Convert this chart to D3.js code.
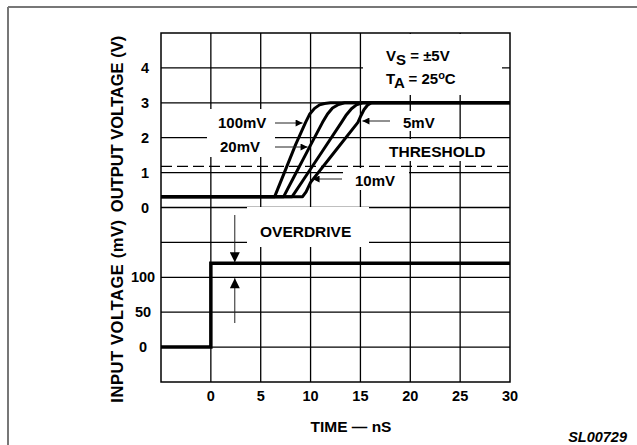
<!DOCTYPE html>
<html>
<head>
<meta charset="utf-8">
<script src="https://cdn.jsdelivr.net/npm/d3@7"></script>
<style>
  body { margin: 0; background: #fff; }
  text { font-family: "Liberation Sans", Arial, sans-serif; font-weight: bold; fill: #000; }
</style>
</head>
<body>
<script>
// time axis (ns) and the two stacked voltage axes
var timeTicks = [0, 5, 10, 15, 20, 25, 30];
var outTicks = [0, 1, 2, 3, 4];
var inTicks = [0, 50, 100];
var threshold = 1.18;

// output response for each overdrive, [ns, V]
var out100 = [[-5, 0.31], [6.4, 0.31], [7.3, 0.95], [8.5, 1.8], [9.5, 2.44], [9.9, 2.67], [10.4, 2.84], [10.9, 2.94], [11.4, 2.98], [12, 3], [30, 3]];
var out20 = [[-5, 0.31], [7.3, 0.31], [8.3, 0.86], [9.8, 1.68], [11.2, 2.44], [11.7, 2.68], [12.2, 2.85], [12.8, 2.95], [13.4, 3], [30, 3]];
var out10 = [[-5, 0.31], [8.15, 0.31], [9.2, 0.76], [11.2, 1.62], [13.1, 2.44], [13.6, 2.66], [14.1, 2.83], [14.6, 2.94], [15.2, 3], [30, 3]];
var out5 = [[-5, 0.31], [9.2, 0.31], [9.55, 0.45], [10.0, 0.72], [12.4, 1.59], [14.75, 2.44], [15.05, 2.63], [15.35, 2.8], [15.7, 2.93], [16.1, 3], [30, 3]];

// input step, [ns, mV]
var input = [[-5, 0], [0, 0], [0, 120], [30, 120]];

var svg = d3.select("body").append("svg")
    .attr("width", 637)
    .attr("height", 445);

// page frame (only top and left edges show)
svg.append("line").attr("x1", 8).attr("y1", 7).attr("x2", 637).attr("y2", 7)
    .attr("stroke", "#777").attr("stroke-width", 2);
svg.append("line").attr("x1", 8).attr("y1", 7).attr("x2", 8).attr("y2", 445)
    .attr("stroke", "#777").attr("stroke-width", 2);

var plotL = 161, plotR = 510, plotT = 33, plotB = 382;
var row = (plotB - plotT) / 10;

var x = d3.scaleLinear().domain([-5, 30]).range([plotL, plotR]);
var yOut = d3.scaleLinear().domain([0, 5]).range([plotT + 5 * row, plotT]);
var yIn = d3.scaleLinear().domain([-50, 200]).range([plotB, plotT + 5 * row]);

var grid = svg.append("g");
var boxes = svg.append("g");
var marks = svg.append("g");
var notes = svg.append("g");

// gridlines
timeTicks.slice(0, -1).forEach(function (t) {
    grid.append("line").attr("x1", x(t)).attr("x2", x(t)).attr("y1", plotT).attr("y2", plotB)
        .attr("stroke", "#000").attr("stroke-width", 1.3);
});
[0, 1, 2, 3, 4].forEach(function (v) {
    grid.append("line").attr("x1", plotL).attr("x2", plotR).attr("y1", yOut(v)).attr("y2", yOut(v))
        .attr("stroke", "#000").attr("stroke-width", 1.3);
});
[0, 50, 100, 150].forEach(function (v) {
    grid.append("line").attr("x1", plotL).attr("x2", plotR).attr("y1", yIn(v)).attr("y2", yIn(v))
        .attr("stroke", "#000").attr("stroke-width", 1.3);
});

// white patches behind the notes
[[363, 34, 139, 61], [207, 109, 68, 48], [396, 111, 48, 20], [385, 139, 108, 22],
 [343, 168, 66, 22], [247, 207, 122, 40]].forEach(function (b) {
    boxes.append("rect").attr("x", b[0]).attr("y", b[1]).attr("width", b[2]).attr("height", b[3])
        .attr("fill", "#fff");
});

// threshold
marks.append("line").attr("x1", plotL).attr("x2", plotR)
    .attr("y1", yOut(threshold)).attr("y2", yOut(threshold))
    .attr("stroke", "#000").attr("stroke-width", 1.3).attr("stroke-dasharray", "11,5");

var outLine = d3.line().x(function (d) { return x(d[0]); }).y(function (d) { return yOut(d[1]); });
[out100, out20, out10, out5].forEach(function (s) {
    marks.append("path").attr("d", outLine(s)).attr("fill", "none")
        .attr("stroke", "#000").attr("stroke-width", 3).attr("stroke-linejoin", "round");
});

var inLine = d3.line().x(function (d) { return x(d[0]); }).y(function (d) { return yIn(d[1]); });
marks.append("path").attr("d", inLine(input)).attr("fill", "none")
    .attr("stroke", "#000").attr("stroke-width", 3.5);

// plot border
svg.append("rect").attr("x", plotL).attr("y", plotT).attr("width", plotR - plotL).attr("height", plotB - plotT)
    .attr("fill", "none").attr("stroke", "#000").attr("stroke-width", 1.5);

// arrowheads
var defs = svg.append("defs");
defs.append("marker").attr("id", "head").attr("viewBox", "0 0 10 10")
    .attr("refX", 10).attr("refY", 5).attr("markerWidth", 9).attr("markerHeight", 7)
    .attr("markerUnits", "userSpaceOnUse").attr("orient", "auto")
    .append("path").attr("d", "M0,0L10,5L0,10z").attr("fill", "#000");
defs.append("marker").attr("id", "big").attr("viewBox", "0 0 10 10")
    .attr("refX", 10).attr("refY", 5).attr("markerWidth", 13).attr("markerHeight", 10)
    .attr("markerUnits", "userSpaceOnUse").attr("orient", "auto")
    .append("path").attr("d", "M0,0L10,5L0,10z").attr("fill", "#000");

function arrow(x1, y1, x2, y2, m) {
    notes.append("line").attr("x1", x1).attr("y1", y1).attr("x2", x2).attr("y2", y2)
        .attr("stroke", "#222").attr("stroke-width", 1)
        .attr("marker-end", "url(#" + m + ")");
}
function label(tx, ty, s, size, anchor) {
    return notes.append("text").attr("x", tx).attr("y", ty).attr("font-size", size)
        .attr("text-anchor", anchor || "start").text(s);
}

label(218, 128, "100mV", 15);
arrow(275, 123, x(9.2), 123, "head");
label(220, 152, "20mV", 15);
arrow(275, 147, x(9.7), 147, "head");
label(403, 128, "5mV", 15);
arrow(390, 121, x(15.2), 121, "head");
label(389, 157, "THRESHOLD", 15.5);
label(355, 186, "10mV", 15);
arrow(342, 179, x(10.2), 179, "head");
label(260, 237, "OVERDRIVE", 15.5);

// overdrive marker
arrow(x(2.4), 215, x(2.4), yIn(120) - 1, "big");
arrow(x(2.4), 323, x(2.4), yIn(100) + 1, "big");

// conditions
var vs = notes.append("text").attr("x", 386).attr("y", 61).attr("font-size", 15);
vs.append("tspan").text("V");
vs.append("tspan").attr("dy", 4).text("S");
vs.append("tspan").attr("dy", -4).text(" =  ±5V");
var ta = notes.append("text").attr("x", 386).attr("y", 84).attr("font-size", 15);
ta.append("tspan").text("T");
ta.append("tspan").attr("dy", 4).text("A");
ta.append("tspan").attr("dy", -4).text(" = 25");
ta.append("tspan").attr("dy", -5).attr("font-size", 11).text("o");
ta.append("tspan").attr("dy", 5).text("C");

// tick labels
outTicks.forEach(function (v) {
    label(145, yOut(v) + 5, v, 14.5, "middle");
});
inTicks.forEach(function (v) {
    label(143, yIn(v) + 5, v, 14.5, "middle");
});
timeTicks.forEach(function (t) {
    label(x(t), 401, t, 14.5, "middle");
});

// axis titles
svg.append("text").attr("transform", "translate(123,124) rotate(-90)")
    .attr("text-anchor", "middle").attr("font-size", 16.5).text("OUTPUT VOLTAGE (V)");
svg.append("text").attr("transform", "translate(123,311) rotate(-90)")
    .attr("text-anchor", "middle").attr("font-size", 16.5).attr("letter-spacing", 0.6)
    .text("INPUT VOLTAGE (mV)");
svg.append("text").attr("x", 351).attr("y", 432).attr("text-anchor", "middle")
    .attr("font-size", 15.5).text("TIME — nS");

svg.append("text").attr("x", 627).attr("y", 442).attr("text-anchor", "end")
    .attr("font-size", 14.5).attr("font-style", "italic").attr("font-weight", "normal")
    .text("SL00729");
</script>
</body>
</html>
